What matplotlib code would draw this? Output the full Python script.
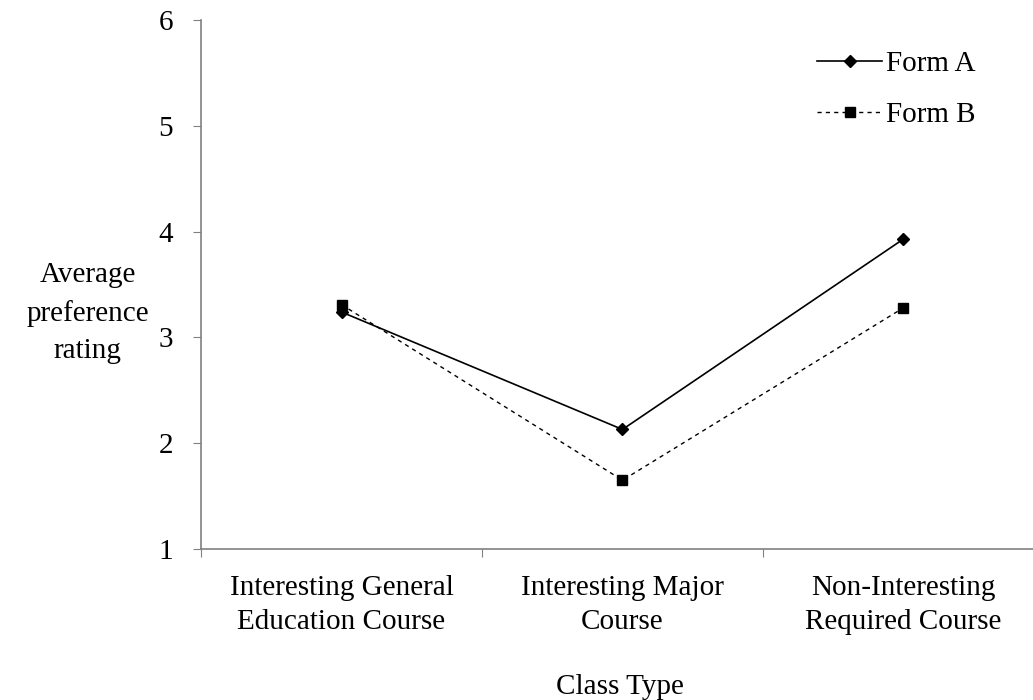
import matplotlib
matplotlib.use("Agg")
import matplotlib.pyplot as plt

categories = ["Interesting General\nEducation Course", "Interesting Major\nCourse", "Non-Interesting\nRequired Course"]
form_a = [3.24, 2.13, 3.93]
form_b = [3.31, 1.65, 3.28]
y_ticks = [1, 2, 3, 4, 5, 6]

plt.rcParams['font.family'] = ['Liberation Serif', 'DejaVu Serif']

fig = plt.figure(figsize=(10.33, 7.0), dpi=100)
ax = fig.add_axes([0.1946, 0.2157, 0.816, 0.7557])

x = [0, 1, 2]
ax.plot(x, form_a, color='black', linestyle='-', linewidth=1.2, marker='D', markersize=6, label='Form A')
ax.plot(x, form_b, color='black', linestyle=(0, (3, 3)), linewidth=1.0, marker='s', markersize=7, label='Form B')

ax.set_xlim(-0.5, 2.5)
ax.set_ylim(1, 6)
ax.set_yticks(y_ticks)
ax.set_yticklabels([str(v) for v in y_ticks], fontsize=21)
ax.set_xticks([-0.5, 0.5, 1.5, 2.5])
ax.set_xticklabels([])
ax.set_xticks(x, minor=True)
ax.set_xticklabels(categories, minor=True, fontsize=21, linespacing=1.38)
ax.tick_params(axis='x', which='minor', length=0, pad=19)
ax.tick_params(axis='x', which='major', length=6, color='#808080', direction='out')
ax.tick_params(axis='y', length=6, color='#808080', direction='out', pad=14)

for s in ['top', 'right']:
    ax.spines[s].set_visible(False)
for s in ['left', 'bottom']:
    ax.spines[s].set_color('#808080')
    ax.spines[s].set_linewidth(1.2)

fig.text(0.085, 0.553, "Average\npreference\nrating", ha='center', va='center', fontsize=21, linespacing=1.55)
fig.text(0.6, 0.019, "Class Type", ha='center', va='center', fontsize=21)

leg = ax.legend(loc='upper right', bbox_to_anchor=(0.943, 0.98), frameon=False, fontsize=21,
                handlelength=2.2, handletextpad=0.15, labelspacing=0.82, borderpad=0.2)

fig.savefig("out.png", dpi=100)
